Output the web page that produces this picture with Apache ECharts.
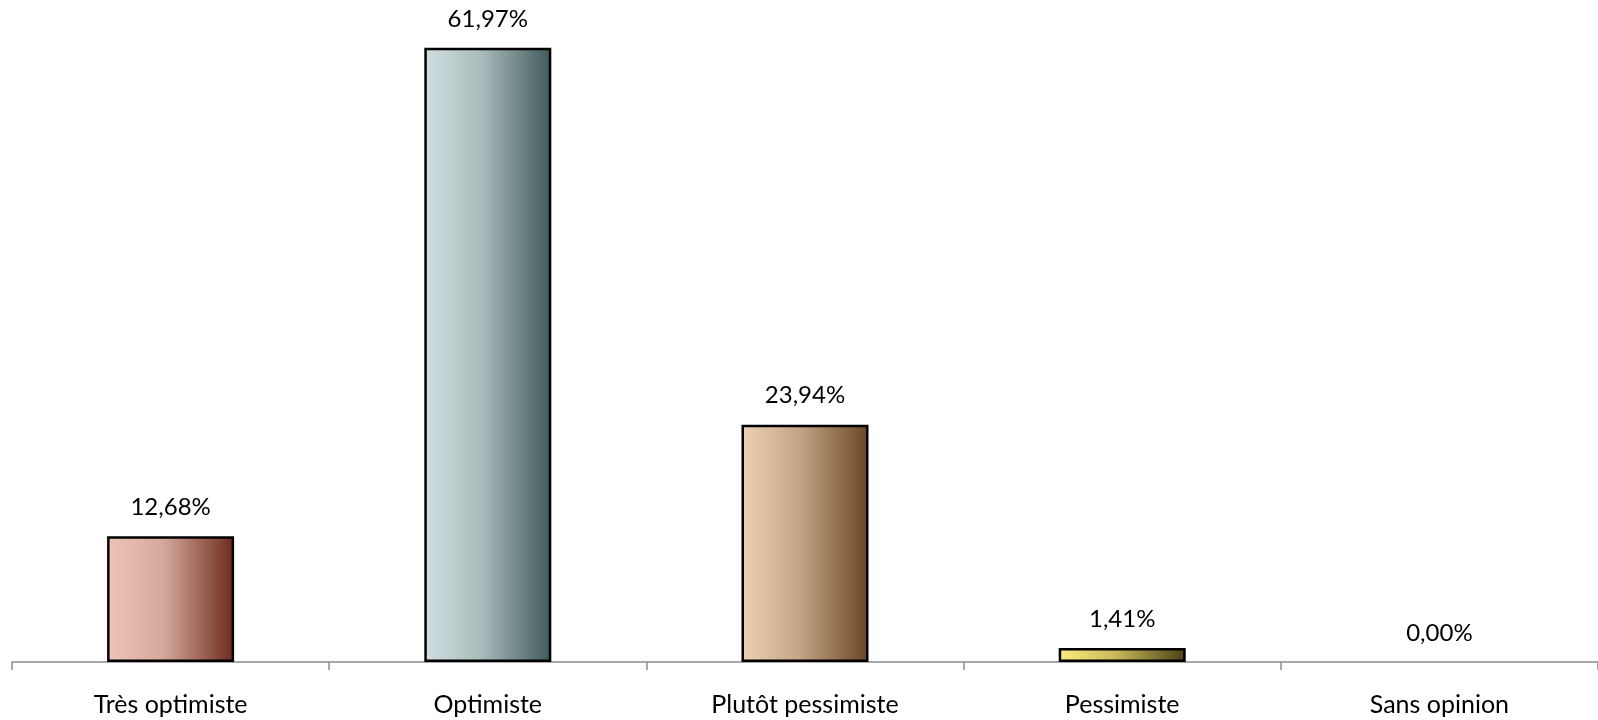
<!DOCTYPE html>
<html>
<head>
<meta charset="utf-8">
<script src="https://cdn.jsdelivr.net/npm/echarts@6/dist/echarts.min.js"></script>
<style>html,body{margin:0;padding:0;background:#fff;}#c{width:1598px;height:720px;}</style>
</head>
<body>
<div id="c"></div>
<script>
const categories = ['Très optimiste', 'Optimiste', 'Plutôt pessimiste', 'Pessimiste', 'Sans opinion'];
const values = [12.68, 61.97, 23.94, 1.41, 0.00];
const gradients = [
  ['#F0C4B9', '#D4A79C', '#6C2A1C'],
  ['#D1DFE1', '#AABBBB', '#3F5A5B'],
  ['#ECD1B2', '#C4A686', '#6B4626'],
  ['#FCEC7C', '#C8B95A', '#4B4115']
];

const chart = echarts.init(document.getElementById('c'));
const FONT = 'Lato, Carlito, sans-serif';
function grad(g) {
  return new echarts.graphic.LinearGradient(0, 0, 1, 0, [
    {offset: 0, color: g[0]}, {offset: 0.45, color: g[1]}, {offset: 1, color: g[2]}
  ]);
}
chart.setOption({
  animation: false,
  grid: {left: 12, right: 0, top: 0, bottom: 58},
  xAxis: {
    type: 'category',
    data: categories,
    axisLine: {lineStyle: {color: '#8C8C8C', width: 1.5}},
    axisTick: {show: true, length: 8, alignWithLabel: false, lineStyle: {color: '#8C8C8C', width: 1.5}},
    axisLabel: {color: '#000', fontSize: 25, fontFamily: FONT, margin: 30}
  },
  yAxis: {
    type: 'value', min: 0, max: 66.8, show: false, splitLine: {show: false}
  },
  series: [{
    type: 'bar',
    barWidth: 127,
    data: values.map((v, i) => ({
      value: v,
      itemStyle: i < gradients.length ? {color: grad(gradients[i]), borderColor: '#000', borderWidth: 2.5} : {color: 'transparent', borderWidth: 0}
    })),
    label: {
      show: true, position: 'top', distance: 17, color: '#000', fontSize: 24, fontFamily: FONT,
      formatter: p => p.value.toFixed(2).replace('.', ',') + '%'
    }
  }]
});
</script>
</body>
</html>
